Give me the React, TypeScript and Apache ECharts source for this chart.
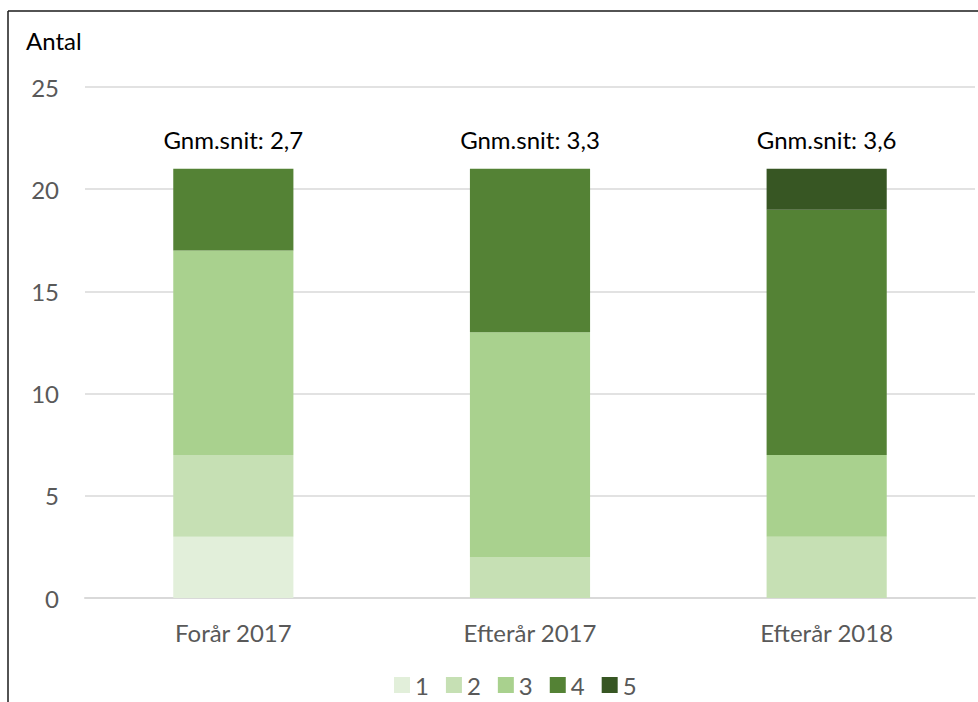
import React, { useEffect, useRef } from "react";
import * as echarts from "echarts";

const categories = ["Forår 2017", "Efterår 2017", "Efterår 2018"];
const seriesNames = ["1", "2", "3", "4", "5"];
const values1 = [3, 0, 0];
const values2 = [4, 2, 3];
const values3 = [10, 11, 4];
const values4 = [4, 8, 12];
const values5 = [0, 0, 2];
const averages = ["2,7", "3,3", "3,6"];
const colors = ["#E2EFDA", "#C6E0B4", "#A9D18E", "#548235", "#375623"];
const yTicks = [0, 5, 10, 15, 20, 25];

export default function App() {
  const ref = useRef<HTMLDivElement>(null);
  useEffect(() => {
    if (!ref.current) return;
    const chart = echarts.init(ref.current, undefined, { renderer: "svg" });
    const all = [values1, values2, values3, values4, values5];
    const font = "Lato, 'Open Sans', sans-serif";
    chart.setOption({
      animation: false,
      backgroundColor: "#ffffff",
      textStyle: { fontFamily: font },
      grid: { left: 85, right: 3, top: 87, bottom: 104, containLabel: false },
      legend: {
        data: seriesNames,
        left: 389,
        top: 668,
        itemWidth: 16,
        itemHeight: 16,
        itemGap: 17,
        icon: "rect",
        textStyle: { fontSize: 24, color: "#595959", fontFamily: font },
      },
      xAxis: {
        type: "category",
        data: categories,
        axisLine: { show: true, lineStyle: { color: "#D9D9D9", width: 2 } },
        axisTick: { show: false },
        axisLabel: { fontSize: 24, color: "#595959", margin: 22, fontFamily: font },
      },
      yAxis: {
        type: "value",
        min: yTicks[0],
        max: yTicks[yTicks.length - 1],
        interval: 5,
        axisLine: { show: false },
        axisTick: { show: false },
        axisLabel: { fontSize: 24, color: "#595959", margin: 26, fontFamily: font },
        splitLine: { lineStyle: { color: "#D9D9D9", width: 1.5 } },
      },
      series: seriesNames.map((name, i) => ({
        name,
        type: "bar",
        stack: "total",
        barWidth: "40.5%",
        data: all[i],
        itemStyle: { color: colors[i] },
        label:
          i === seriesNames.length - 1
            ? {
                show: true,
                position: "top",
                distance: 17,
                fontSize: 24,
                color: "#000000",
                fontFamily: font,
                formatter: (p: any) => "Gnm.snit: " + averages[p.dataIndex],
              }
            : { show: false },
      })),
      graphic: [
        {
          type: "line",
          shape: { x1: 8, y1: 11, x2: 978, y2: 11 },
          style: { stroke: "#1a1a1a", lineWidth: 1.5 },
        },
        {
          type: "line",
          shape: { x1: 8, y1: 11, x2: 8, y2: 702 },
          style: { stroke: "#1a1a1a", lineWidth: 1.5 },
        },
        {
          type: "text",
          left: 26,
          top: 28,
          style: { text: "Antal", fontSize: 24, fill: "#000000", fontFamily: font },
        },
      ],
    });
    return () => chart.dispose();
  }, []);
  return (
    <div
      ref={ref}
      style={{ position: "fixed", left: 0, top: 0, width: 978, height: 702 }}
    />
  );
}
